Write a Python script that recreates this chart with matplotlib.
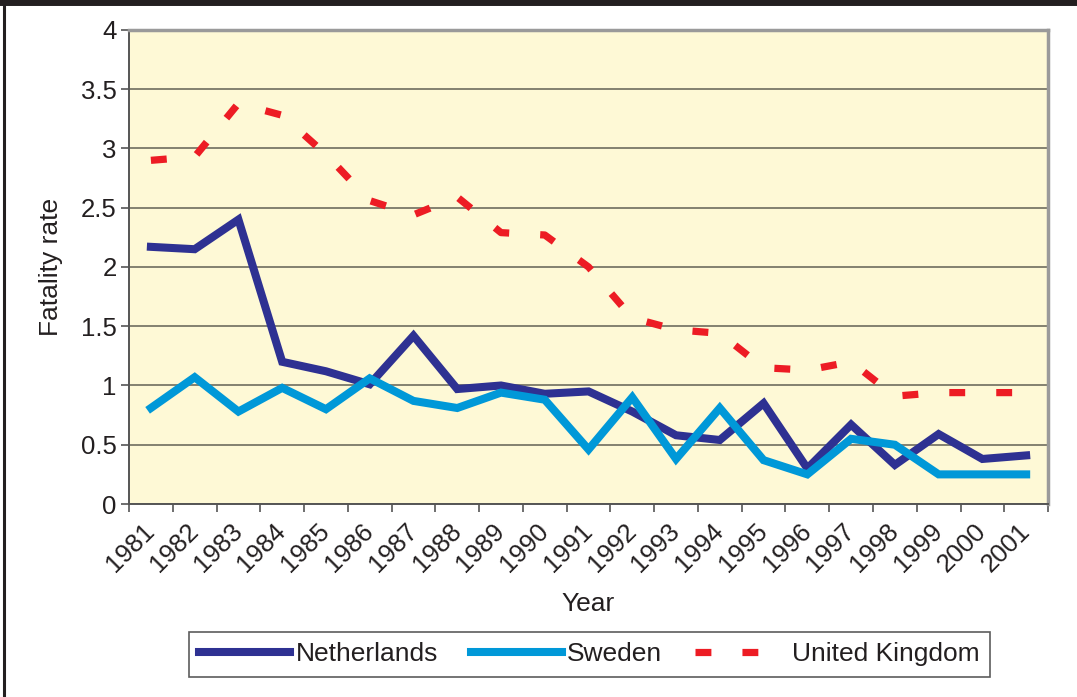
import matplotlib.pyplot as plt
from matplotlib.lines import Line2D

plt.rcParams["font.family"] = ["Liberation Sans", "DejaVu Sans"]

years = [str(y) for y in range(1981, 2002)]
netherlands = [2.17, 2.15, 2.40, 1.20, 1.12, 1.01, 1.42, 0.97, 1.00, 0.93, 0.95,
               0.78, 0.58, 0.54, 0.85, 0.30, 0.67, 0.33, 0.59, 0.38, 0.41]
sweden = [0.81, 1.07, 0.78, 0.98, 0.80, 1.06, 0.87, 0.81, 0.94, 0.88, 0.46,
          0.90, 0.38, 0.81, 0.37, 0.25, 0.55, 0.50, 0.25, 0.25, 0.25]
uk = [2.90, 2.93, 3.38, 3.28, 2.95, 2.56, 2.44, 2.59, 2.29, 2.27, 2.00,
      1.57, 1.47, 1.44, 1.15, 1.13, 1.20, 0.91, 0.94, 0.94, 0.94]

TEXT = "#231F20"
fig = plt.figure(figsize=(10.77, 6.97), dpi=100)
ax = fig.add_axes([0.1198, 0.2769, 0.8533, 0.6801])
ax.set_facecolor("#FEF9D6")

x = [i + 0.5 for i in range(len(years))]
ax.plot(x, netherlands, color="#2E3192", lw=5.8, solid_joinstyle="miter",
        label="Netherlands", zorder=3)
ax.plot(x, sweden, color="#0098D8", lw=5.8, solid_joinstyle="miter",
        label="Sweden", zorder=3)
ax.plot(x, uk, color="#ED1C24", lw=5.2, dashes=(2.2, 4.3),
        dash_capstyle="butt", label="United Kingdom", zorder=3)

ax.set_xlim(0, len(years))
ax.set_ylim(0, 4)
ax.set_yticks([0, 0.5, 1, 1.5, 2, 2.5, 3, 3.5, 4])
ax.set_yticklabels(["0", "0.5", "1", "1.5", "2", "2.5", "3", "3.5", "4"])
ax.set_xticks(range(len(years) + 1))
ax.set_xticklabels([])
ax.set_xticks(x, minor=True)
ax.set_xticklabels(years, minor=True, rotation=45, ha="right", va="center",
                   rotation_mode="anchor")
ax.tick_params(axis="x", which="minor", length=0, pad=17, labelsize=18.5,
               labelcolor=TEXT)
ax.tick_params(axis="x", which="major", length=6, width=1.2, color="#555555")
ax.tick_params(axis="y", length=6, width=1.2, color="#555555", labelsize=18.5,
               labelcolor=TEXT, pad=3)

ax.grid(axis="y", color="#7A7868", lw=1.3)
ax.set_axisbelow(True)
for side in ["left", "bottom"]:
    ax.spines[side].set_color("#555555")
    ax.spines[side].set_linewidth(1.4)
for side in ["top", "right"]:
    ax.spines[side].set_color("#9A9A9A")
    ax.spines[side].set_linewidth(2.5)

ax.set_ylabel("Fatality rate", fontsize=19, color=TEXT)
ax.yaxis.set_label_coords(-0.072, 0.5)
ax.set_xlabel("Year", fontsize=19, color=TEXT)
ax.xaxis.set_label_coords(0.5, -0.185)

leg = fig.legend(loc="center", bbox_to_anchor=(0.547, 0.061), ncol=3,
                 fontsize=19, handlelength=3.45, handletextpad=0.2,
                 columnspacing=1.25, frameon=True, fancybox=False,
                 borderpad=0.4, borderaxespad=0, labelcolor=TEXT)
leg.get_frame().set_edgecolor("#333333")
leg.get_frame().set_linewidth(1.2)

# outer frame: thick top band and left edge
fig.add_artist(Line2D([0, 1], [0.9965, 0.9965], transform=fig.transFigure,
                      color=TEXT, lw=5))
fig.add_artist(Line2D([0.0035, 0.0035], [0, 1], transform=fig.transFigure,
                      color=TEXT, lw=2.2))

fig.savefig("out.png", dpi=100)
